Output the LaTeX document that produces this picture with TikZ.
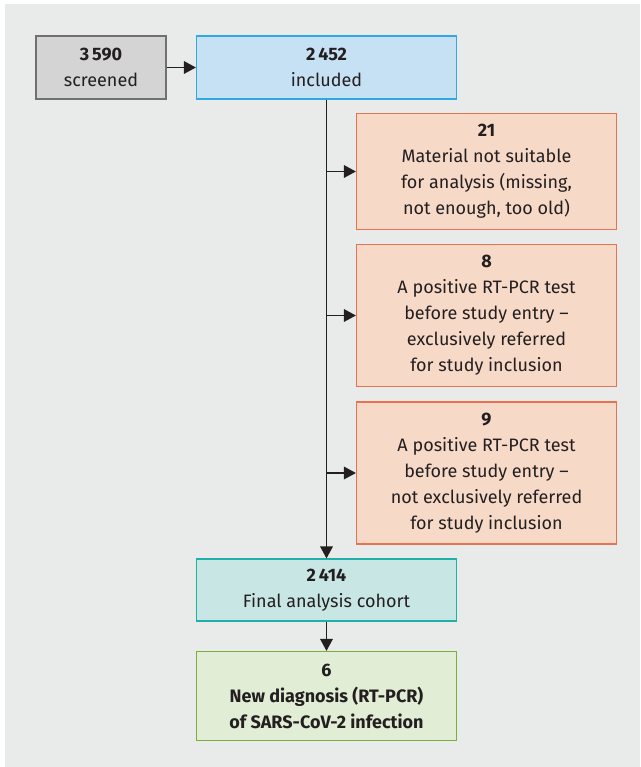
\documentclass[tikz,border=0pt]{standalone}
\usepackage{fontspec}
\setmainfont{Fira Sans}
\usepackage{tikz}
\usetikzlibrary{arrows.meta}

\definecolor{bgcol}{HTML}{E9EAEA}
\definecolor{txtcol}{HTML}{231F20}
\definecolor{scrfill}{HTML}{D4D4D4}
\definecolor{scrline}{HTML}{707070}
\definecolor{incfill}{HTML}{C6E1F3}
\definecolor{incline}{HTML}{31A8E0}
\definecolor{excfill}{HTML}{F7D9C8}
\definecolor{excline}{HTML}{E8734E}
\definecolor{finfill}{HTML}{C8E6E4}
\definecolor{finline}{HTML}{1FB1A9}
\definecolor{dxfill}{HTML}{E1EDD4}
\definecolor{dxline}{HTML}{7BAE3D}

\tikzset{
  flowbox/.style={draw, line width=0.9pt, inner sep=0pt, align=center,
    minimum width=195pt, text=txtcol,
    font=\fontsize{13.5}{19.5}\selectfont},
  flowarrow/.style={draw=txtcol, line width=0.9pt,
    -{Triangle[length=9pt,width=9.5pt]}}
}

\begin{document}
\begin{tikzpicture}[x=0.75pt,y=0.75pt,yscale=-1,xscale=1]
\useasboundingbox (0,0) rectangle (640,767);
% Background
\fill [bgcol] (5,4) rectangle (640,767);

% Text Node
\draw (101,67.5) node (screened) [flowbox, fill=scrfill, draw=scrline, minimum width=97.5pt, minimum height=47.25pt] {\textbf{3\,590}\\screened};
% Text Node
\draw (326.5,67.5) node (included) [flowbox, fill=incfill, draw=incline, minimum height=47.25pt] {\textbf{2\,452}\\included};
% Text Node
\draw (486.5,171.5) node (exmat) [flowbox, fill=excfill, draw=excline, minimum height=87pt] {\textbf{21}\\Material not suitable\\for analysis (missing,\\not enough, too old)};
% Text Node
\draw (486.5,315.5) node (exref) [flowbox, fill=excfill, draw=excline, minimum height=106pt] {\textbf{8}\\A positive RT-PCR test\\before study entry --\\exclusively referred\\for study inclusion};
% Text Node
\draw (486.5,473) node (exnotref) [flowbox, fill=excfill, draw=excline, minimum height=106.5pt] {\textbf{9}\\A positive RT-PCR test\\before study entry --\\not exclusively referred\\for study inclusion};
% Text Node
\draw (326.5,590) node (final) [flowbox, fill=finfill, draw=finline, minimum height=46.5pt] {\textbf{2\,414}\\Final analysis cohort};
% Text Node
\draw (326.5,696) node (newdx) [flowbox, fill=dxfill, draw=dxline, minimum height=66.75pt] {\textbf{6}\\\textbf{New diagnosis (RT-PCR)}\\\textbf{of SARS-CoV-2 infection}};

% Branch points
\coordinate (bmat) at (included.south |- exmat.west);
\coordinate (bref) at (included.south |- exref.west);
\coordinate (bnotref) at (included.south |- exnotref.west);

% Connection
\draw [flowarrow] (screened) -- (included);
% Connection
\draw [flowarrow] (included) -- (final);
% Connection
\draw [flowarrow] (bmat) -- (exmat);
% Connection
\draw [flowarrow] (bref) -- (exref);
% Connection
\draw [flowarrow] (bnotref) -- (exnotref);
% Connection
\draw [flowarrow] (final) -- (newdx);

\end{tikzpicture}
\end{document}
